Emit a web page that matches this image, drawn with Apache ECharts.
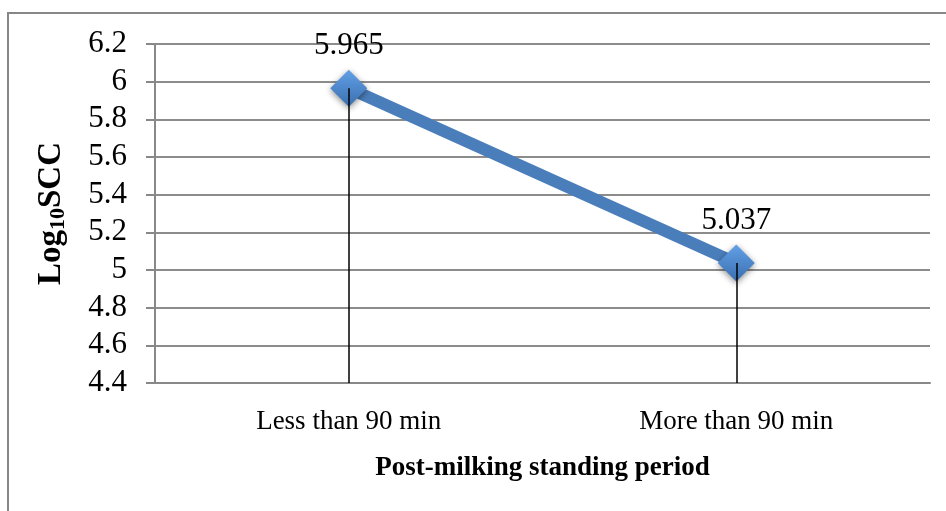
<!DOCTYPE html>
<html>
<head>
<meta charset="utf-8">
<script src="https://cdn.jsdelivr.net/npm/echarts@6/dist/echarts.min.js"></script>
<style>
  html, body { margin: 0; padding: 0; background: #fff; }
  #chart { width: 946px; height: 511px; }
</style>
</head>
<body>
<div id="chart"></div>
<script>
// data
const categories = ['Less than 90 min', 'More than 90 min'];
const logScc = [5.965, 5.037];
const yMin = 4.4;
const yMax = 6.2;
const yStep = 0.2;

const serif = '"Liberation Serif", "Times New Roman", serif';

const chart = echarts.init(document.getElementById('chart'));

const option = {
  animation: false,
  backgroundColor: '#fff',
  graphic: [{
    type: 'rect',
    shape: { x: 8, y: 13, width: 960, height: 530 },
    style: { fill: 'none', stroke: '#878787', lineWidth: 2 },
    silent: true
  }],
  grid: { left: 155, right: 16, top: 44, bottom: 128 },
  xAxis: {
    type: 'category',
    data: categories,
    name: 'Post-milking standing period',
    nameLocation: 'middle',
    nameGap: 72,
    nameTextStyle: { fontFamily: serif, fontSize: 27, fontWeight: 'bold', color: '#000' },
    axisLine: { lineStyle: { color: '#888', width: 2 } },
    axisTick: { show: false },
    axisLabel: { fontFamily: serif, fontSize: 27, color: '#000', margin: 25 },
    splitLine: { show: false }
  },
  yAxis: {
    type: 'value',
    min: yMin,
    max: yMax,
    interval: yStep,
    name: '{t|Log}{s|10}{t|SCC}',
    nameLocation: 'middle',
    nameGap: 86,
    nameRotate: 90,
    nameTextStyle: {
      rich: {
        t: { fontFamily: serif, fontSize: 33, fontWeight: 'bold', color: '#000' },
        s: { fontFamily: serif, fontSize: 22, fontWeight: 'bold', color: '#000', padding: [14, 0, 0, 0] }
      }
    },
    axisLine: { show: true, lineStyle: { color: '#888', width: 2 } },
    axisTick: { show: true, length: 9, lineStyle: { color: '#888', width: 2 } },
    axisLabel: {
      fontFamily: serif, fontSize: 31, color: '#000', margin: 28,
      formatter: v => String(Math.round(v * 10) / 10)
    },
    splitLine: { lineStyle: { color: '#8c8c8c', width: 2 } }
  },
  series: [{
    type: 'line',
    data: logScc,
    symbol: 'diamond',
    symbolSize: 37,
    lineStyle: { color: '#4a7ebb', width: 12 },
    itemStyle: {
      color: new echarts.graphic.LinearGradient(0, 0, 0, 1, [
        { offset: 0, color: '#62a0e6' },
        { offset: 1, color: '#3a6fb0' }
      ]),
      shadowColor: 'rgba(0,0,0,0.45)',
      shadowBlur: 6,
      shadowOffsetY: 2
    },
    label: {
      show: true,
      position: 'top',
      distance: 8,
      fontFamily: serif,
      fontSize: 31,
      color: '#000',
      formatter: p => p.value.toFixed(3)
    },
    markLine: {
      silent: true,
      symbol: 'none',
      label: { show: false },
      lineStyle: { color: '#000', width: 1.5, type: 'solid' },
      z: 5,
      data: categories.map((c, i) => [
        { coord: [i, logScc[i]] },
        { coord: [i, yMin] }
      ])
    }
  }]
};

chart.setOption(option);
</script>
</body>
</html>
